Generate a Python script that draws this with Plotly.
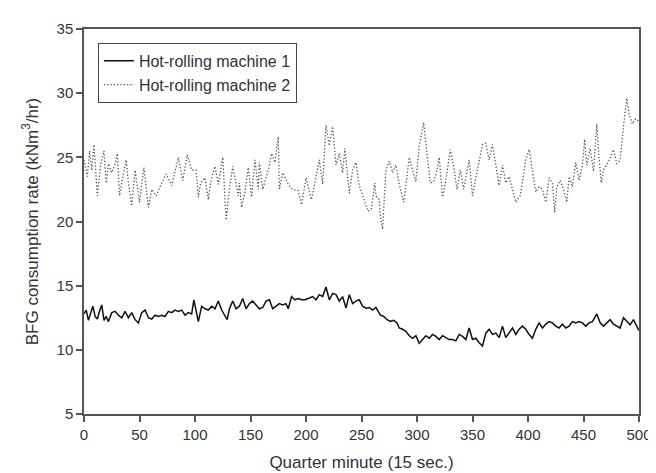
import plotly.graph_objects as go

# Hot-rolling machine 1 (solid)
x1 = [0, 2, 4, 6, 8, 10, 12, 14, 16, 18, 20, 22, 25, 28, 31, 34, 37, 40, 43, 46, 49, 52, 55, 58, 61, 64, 67, 70, 73, 76,
      79, 82, 85, 88, 91, 94, 97, 99, 101, 103, 106, 109, 112, 115, 118, 121, 124, 127, 129, 131, 134, 137, 140, 143, 146,
      149, 152, 155, 158, 161, 164, 167, 170, 173, 176, 179, 182, 184, 187, 190, 193, 196, 199, 202, 206, 209, 212, 215,
      218, 221, 224, 227, 230, 233, 236, 239, 242, 245, 248, 251, 254, 257, 260, 263, 265, 267, 270, 273, 276, 279, 282,
      284, 287, 290, 293, 296, 299, 302, 305, 308, 311, 314, 317, 320, 323, 326, 329, 332, 335, 338, 341, 344, 347, 350,
      353, 356, 359, 362, 365, 368, 371, 374, 377, 380, 383, 386, 389, 392, 395, 398, 401, 404, 407, 410, 413, 416, 419,
      422, 425, 428, 431, 434, 437, 440, 443, 446, 449, 452, 455, 458, 462, 465, 468, 471, 474, 477, 480, 483, 486, 489,
      492, 495, 498, 500]
y1 = [12.8, 13.1, 12.3, 12.9, 13.4, 12.6, 12.4, 13.0, 13.5, 12.3, 12.6, 12.2, 12.9, 13.0, 12.7, 12.5, 13.0, 12.5, 12.9,
      12.35, 12.1, 12.9, 13.1, 12.5, 12.4, 12.7, 12.6, 12.7, 12.6, 13.0, 12.9, 13.1, 13.0, 13.1, 12.7, 12.9, 12.8, 13.9,
      13.0, 12.2, 13.4, 13.2, 13.1, 13.4, 13.2, 13.8, 13.1, 12.6, 12.35, 13.2, 13.8, 13.2, 13.4, 14.0, 13.2, 13.6, 13.8,
      13.5, 13.2, 13.3, 13.8, 13.9, 13.2, 13.4, 13.6, 13.5, 13.6, 13.2, 14.15, 13.9, 14.0, 13.9, 13.9, 14.0, 14.15, 13.9,
      14.3, 14.15, 14.9, 13.9, 14.4, 14.3, 13.8, 14.15, 13.25, 14.3, 13.6, 13.8, 13.9, 13.4, 13.25, 13.3, 13.1, 13.3,
      13.0, 12.7, 12.6, 12.35, 12.22, 12.3, 12.1, 11.7, 11.6, 11.45, 11.1, 10.9, 11.1, 10.5, 10.8, 11.1, 10.9, 11.2,
      11.05, 10.8, 11.1, 10.95, 10.8, 10.8, 10.7, 11.2, 11.05, 10.8, 11.7, 10.8, 10.9, 10.55, 10.3, 11.3, 11.6, 11.2,
      11.3, 10.95, 11.85, 10.95, 11.3, 11.7, 11.2, 11.6, 11.85, 11.6, 11.2, 10.9, 11.6, 12.1, 11.7, 12.0, 12.2, 12.1,
      11.85, 11.7, 12.0, 11.7, 11.85, 12.2, 12.1, 12.2, 12.1, 11.85, 12.1, 12.2, 12.8, 12.1, 11.85, 12.1, 12.35, 12.0,
      11.85, 11.7, 12.5, 12.2, 11.95, 12.35, 11.8, 11.5]

# Hot-rolling machine 2 (dotted)
x2 = [0, 3, 5, 7, 9, 12, 15, 18, 20, 22, 25, 28, 30, 32, 35, 38, 40, 43, 46, 48, 50, 54, 58, 61, 65, 70, 74, 79, 82, 85,
      89, 93, 97, 101, 103, 105, 109, 112, 114, 118, 121, 125, 128, 131, 134, 139, 140, 142, 145, 148, 151, 154, 157,
      158, 161, 166, 169, 172, 175, 176, 179, 184, 188, 193, 196, 200, 205, 209, 212, 215, 218, 221, 224, 227, 230, 233,
      235, 239, 242, 245, 248, 253, 256, 259, 262, 263, 266, 267, 269, 272, 275, 278, 281, 284, 288, 290, 293, 296, 299,
      302, 306, 309, 312, 315, 318, 320, 323, 326, 330, 333, 336, 339, 342, 347, 350, 353, 356, 359, 362, 365, 368, 371,
      374, 377, 380, 383, 386, 389, 393, 398, 401, 404, 407, 410, 413, 416, 419, 422, 424, 426, 429, 432, 435, 437, 440,
      443, 446, 449, 451, 453, 456, 459, 462, 464, 466, 468, 471, 474, 477, 480, 483, 485, 487, 489, 491, 494, 497, 500]
y2 = [24.8, 23.5, 25.5, 24.0, 26.0, 22.0, 24.5, 25.5, 23.0, 24.5, 23.8, 24.5, 25.3, 22.0, 23.5, 24.8, 23.0, 21.2, 24.0,
      22.5, 21.5, 24.2, 21.1, 22.5, 22.0, 23.0, 23.7, 22.8, 24.0, 25.0, 23.2, 25.2, 24.0, 24.0, 21.9, 23.0, 23.4, 21.7,
      23.0, 24.3, 22.9, 25.0, 20.1, 22.5, 24.3, 22.0, 23.0, 21.1, 22.3, 24.2, 21.9, 24.8, 22.5, 24.6, 22.5, 24.0, 25.3,
      24.6, 26.6, 22.5, 23.8, 22.9, 22.5, 22.4, 21.3, 23.4, 21.7, 23.4, 24.8, 22.9, 27.5, 25.9, 27.4, 24.4, 25.3, 23.8,
      25.7, 22.2, 24.0, 24.6, 22.8, 21.5, 20.8, 21.0, 23.0, 22.0, 21.7, 20.4, 19.4, 24.0, 24.7, 23.8, 24.4, 22.9, 21.5,
      22.8, 25.0, 24.0, 23.1, 25.9, 27.7, 25.3, 23.0, 23.1, 24.0, 25.0, 21.9, 23.2, 25.6, 24.3, 22.5, 24.0, 22.5, 24.8,
      22.0, 23.4, 24.6, 26.0, 26.1, 24.8, 26.0, 24.3, 22.8, 24.4, 23.0, 23.5, 22.5, 21.5, 22.0, 24.8, 25.6, 23.8, 22.3,
      22.7, 22.5, 21.5, 23.4, 23.0, 20.7, 22.7, 23.2, 22.5, 21.5, 23.5, 22.7, 24.6, 23.2, 24.4, 26.4, 24.4, 25.7, 23.9,
      27.6, 25.0, 23.0, 24.0, 24.5, 24.9, 25.6, 24.5, 24.8, 26.8, 28.2, 29.6, 28.4, 27.6, 28.0, 27.8]

x_ticks = [0, 50, 100, 150, 200, 250, 300, 350, 400, 450, 500]
y_ticks = [5, 10, 15, 20, 25, 30, 35]

FONT = "Liberation Sans, Arial, sans-serif"

fig = go.Figure()
fig.add_trace(go.Scatter(x=x1, y=y1, mode="lines", name="Hot-rolling machine 1",
                         line=dict(color="#111111", width=1.5)))
fig.add_trace(go.Scatter(x=x2, y=y2, mode="lines", name="Hot-rolling machine 2",
                         line=dict(color="#555555", width=1.3, dash="1.3px,2px")))

axis_common = dict(showline=True, linecolor="#555555", linewidth=1.5, mirror=True,
                   ticks="outside", ticklen=6, tickwidth=1.5, tickcolor="#555555",
                   showgrid=False, zeroline=False,
                   tickfont=dict(family=FONT, size=15, color="#333333"))

fig.update_layout(
    width=656, height=473,
    margin=dict(l=76, r=24, t=18, b=66),
    paper_bgcolor="white", plot_bgcolor="white",
    font=dict(family=FONT, color="#333333"),
    showlegend=True,
    legend=dict(x=0.025, y=0.964, xanchor="left", yanchor="top",
                bordercolor="#444444", borderwidth=1, bgcolor="white",
                font=dict(family=FONT, size=16, color="#333333"),
                tracegroupgap=0),
    xaxis=dict(range=[0, 500], tickvals=x_ticks,
               title=dict(text="Quarter minute (15 sec.)", font=dict(family=FONT, size=17, color="#333333"),
                          standoff=14),
               **axis_common),
    yaxis=dict(range=[5, 35], tickvals=y_ticks,
               title=dict(text="BFG consumption rate (kNm<sup>3</sup>/hr)",
                          font=dict(family=FONT, size=17, color="#333333"), standoff=14),
               **axis_common),
)

fig.write_html("out.html")
